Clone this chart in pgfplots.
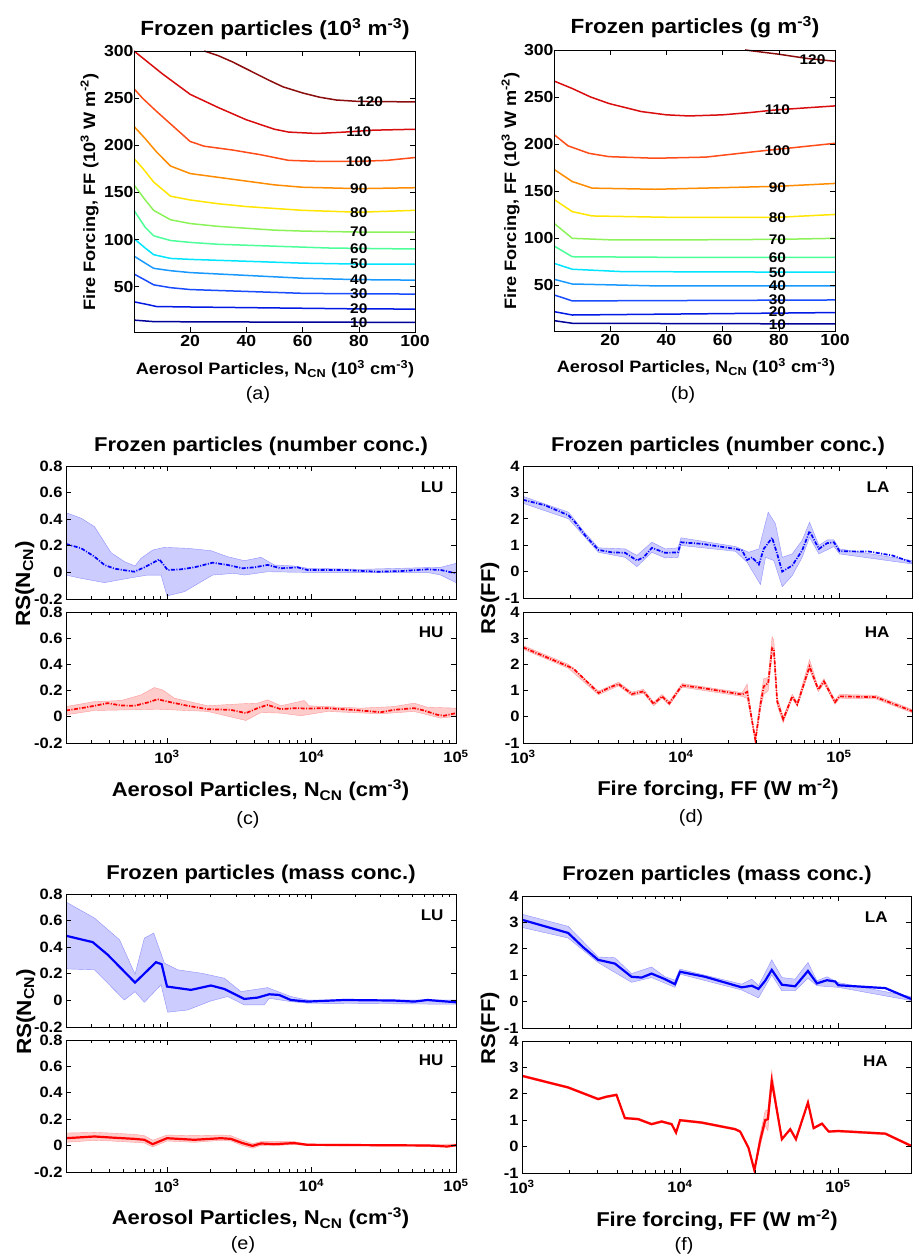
\documentclass[border=0pt]{standalone}
\usepackage{fontspec}
\setmainfont{Liberation Sans}[FakeStretch=1.1]
\usepackage{pgfplots}
\pgfplotsset{compat=1.18}
\newcommand{\B}[1]{\fontsize{#1}{#1}\selectfont\bfseries}
\newcommand{\R}[1]{\fontsize{#1}{#1}\selectfont}
\definecolor{j10}{rgb}{0,0,0.6}
\definecolor{j20}{rgb}{0,0.1,0.9}
\definecolor{j30}{rgb}{0.1,0.3,1}
\definecolor{j40}{rgb}{0.1,0.6,1}
\definecolor{j50}{rgb}{0,0.9,1}
\definecolor{j60}{rgb}{0.3,1,0.6}
\definecolor{j70}{rgb}{0.55,0.95,0.35}
\definecolor{j80}{rgb}{1,0.9,0}
\definecolor{j90}{rgb}{1,0.55,0}
\definecolor{j100}{rgb}{1,0.3,0.1}
\definecolor{j110}{rgb}{0.85,0.05,0.05}
\definecolor{j120}{rgb}{0.55,0.05,0.05}
\definecolor{bblue}{rgb}{0.8,0.8,1}
\definecolor{bred}{rgb}{1,0.8,0.8}
\tikzset{clab/.style={font=\B{14}, inner sep=0.5pt}}
\pgfplotsset{
  myb/.style={scale only axis, anchor=south west, axis on top,
    axis line style={line width=0.9pt}, tick align=inside,
    major tick length=5pt, minor tick length=3pt,
    every tick/.append style={black, line width=0.6pt},
    tick label style={font=\B{15}},
    /pgf/number format/assume math mode=true, clip=true},
  mycont/.style={myb, width=281pt, height=281pt, xmin=0, xmax=100, ymax=300,
    xtick={20,40,60,80,100}, ytick={50,100,150,200,250,300},
    tick label style={font=\B{16}}, yticklabel style={xshift=3pt}},
  cl/.style={line width=1.5pt},
  ncax/.style={myb, width=390pt, xmin=200, xmax=100000,
    xtick={1000,10000,100000},
    minor xtick={200,300,400,500,600,700,800,900,2000,3000,4000,5000,6000,7000,8000,9000,20000,30000,40000,50000,60000,70000,80000,90000},
    ymin=-0.2, ymax=0.8, ytick={-0.2,0,0.2,0.4,0.6,0.8},
    yticklabels={-0.2,0,0.2,0.4,0.6,0.8}},
  ffax/.style={myb, width=389pt, xmin=1000, xmax=290000,
    xtick={1000,10000,100000},
    minor xtick={2000,3000,4000,5000,6000,7000,8000,9000,20000,30000,40000,50000,60000,70000,80000,90000,200000},
    ymin=-1, ymax=4, ytick={-1,0,1,2,3,4}, yticklabels={-1,0,1,2,3,4}},
  topax/.style={xticklabels={}},
  botax/.style={xticklabels={10\textsuperscript{3},10\textsuperscript{4},10\textsuperscript{5}},
    xticklabel style={yshift=-4pt}},
  dd/.style={line width=1.7pt, dash pattern=on 4pt off 1.5pt on 1pt off 1.5pt},
  sl/.style={line width=2.2pt},
  bandB/.style={fill=bblue, draw=bblue!70!blue, line width=0.4pt},
  bandR/.style={fill=bred, draw=bred!75!red, line width=0.4pt},
}
\begin{document}
\begin{tikzpicture}[x=1pt,y=1pt]
\path[use as bounding box] (0,0) rectangle (912,1257);

% ---------------- (a)
\begin{axis}[mycont, at={(134pt,925pt)}, ymin=2]
\addplot[cl,j120] coordinates {(25,300)(30,295)(35,288.5)(42,278)(48,269)(53,262)(60,255.5)(66,251)(72,248)(80,246.5)(100,246)};
\addplot[cl,j110] coordinates {(0,300)(5,288)(10,276)(20,254)(30,240)(40,227)(50,217)(55,214)(65,212.5)(75,214)(85,216)(100,217)};
\addplot[cl,j100] coordinates {(0,260)(3,250)(8,236)(14,220)(20,204)(25,199)(35,195)(45,190)(55,184)(65,183)(80,183)(90,184)(100,187)};
\addplot[cl,j90] coordinates {(0,220)(4,207)(8,193)(13,178)(20,170)(30,166)(40,162)(50,158)(60,155.5)(80,154)(100,155)};
\addplot[cl,j80] coordinates {(0,186)(3,176)(7,161)(13,146)(20,142)(30,138)(40,135)(50,133)(60,131)(80,129)(100,131)};
\addplot[cl,j70] coordinates {(0,158)(4,142)(7,131)(13,121)(20,117)(30,114)(40,112)(50,110)(60,109)(80,108)(100,108)};
\addplot[cl,j60] coordinates {(0,131)(4,113)(7,104)(13,99)(20,97)(30,95)(50,93)(70,91)(100,90)};
\addplot[cl,j50] coordinates {(0,101)(4,91)(7,84)(13,80)(20,79)(40,77)(60,75)(80,74)(100,74)};
\addplot[cl,j40] coordinates {(0,82.5)(4,75)(7,69.5)(13,67)(20,65)(40,62)(60,59)(80,57.5)(100,57)};
\addplot[cl,j30] coordinates {(0,63.5)(4,57)(7,52)(13,49)(20,47)(40,45)(60,43)(80,42.5)(100,42.2)};
\addplot[cl,j20] coordinates {(0,34)(5,31)(8,29)(20,28.5)(50,27.5)(80,26.5)(100,26.3)};
\addplot[cl,j10] coordinates {(0,14.6)(7,13)(20,12.8)(50,12.5)(100,12.2)};
\node[clab] at (axis cs:84,246.5) {120};
\node[clab] at (axis cs:80,214.5) {110};
\node[clab] at (axis cs:80,183) {100};
\node[clab] at (axis cs:80,154.5) {90};
\node[clab] at (axis cs:80,129) {80};
\node[clab] at (axis cs:80,108) {70};
\node[clab] at (axis cs:80,90.5) {60};
\node[clab] at (axis cs:80,74) {50};
\node[clab] at (axis cs:80,57.5) {40};
\node[clab] at (axis cs:80,42.5) {30};
\node[clab] at (axis cs:80,27) {20};
\node[clab] at (axis cs:80,12) {10};
\end{axis}

% ---------------- (b)
\begin{axis}[mycont, at={(554pt,926pt)}, ymin=1]
\addplot[cl,j120] coordinates {(68,300)(80,295.5)(90,291)(100,288)};
\addplot[cl,j110] coordinates {(0,267)(6.5,259)(13,250)(19.6,243)(31,234.5)(40,231)(48,229.8)(60,231)(70,233.5)(78,236)(90,238.5)(100,240.5)};
\addplot[cl,j100] coordinates {(0,210)(5,198)(12.5,190)(19.6,186.5)(36,184.8)(54,186)(72,192)(85,196)(100,200.7)};
\addplot[cl,j90] coordinates {(0,173)(6.5,160)(13.6,153)(36,151.8)(60,153.5)(80,155)(100,158)};
\addplot[cl,j80] coordinates {(0,141)(6.5,128)(13.6,123.4)(40,122)(80,122)(100,125)};
\addplot[cl,j70] coordinates {(0,115.6)(6.5,99.6)(20,98)(50,98)(80,98.5)(100,99.6)};
\addplot[cl,j60] coordinates {(0,91.5)(6.5,80)(40,79.4)(100,79.4)};
\addplot[cl,j50] coordinates {(0,73)(6.5,66.7)(24,64.2)(100,63.5)};
\addplot[cl,j40] coordinates {(0,56)(6.5,51)(36,49)(100,49)};
\addplot[cl,j30] coordinates {(0,39.4)(6.5,33)(100,34)};
\addplot[cl,j20] coordinates {(0,21.6)(6.5,18)(100,20.6)};
\addplot[cl,j10] coordinates {(0,12)(6.5,9.2)(100,8.5)};
\node[clab] at (axis cs:92,289.5) {120};
\node[clab] at (axis cs:79.5,236) {110};
\node[clab] at (axis cs:79.5,193) {100};
\node[clab] at (axis cs:79.5,154) {90};
\node[clab] at (axis cs:79.5,121.5) {80};
\node[clab] at (axis cs:79.5,98.5) {70};
\node[clab] at (axis cs:79.5,79.4) {60};
\node[clab] at (axis cs:79.5,63.5) {50};
\node[clab] at (axis cs:79.5,49) {40};
\node[clab] at (axis cs:79.5,34.5) {30};
\node[clab] at (axis cs:79.5,21.8) {20};
\node[clab] at (axis cs:79.5,7.8) {10};
\end{axis}

% ---------------- (c) upper
\begin{semilogxaxis}[ncax, topax, at={(66pt,658pt)}, height=133pt]
\addplot[bandB] coordinates {(200,0.449)(255,0.407)(315,0.344)(410,0.148)(507,0.081)(601,0.048)(661,0.106)(796,0.168)(959,0.188)(1390,0.181)(2014,0.163)(2626,0.118)(3428,0.088)(4467,0.113)(5521,0.056)(7586,0.048)(9377,0.031)(21928,0.023)(63446,0.036)(78343,0.038)(100000,0.068)
(100000,-0.077)(78343,-0.02)(63446,0.0)(9377,0.0)(4966,0.005)(3428,-0.02)(2917,-0.007)(2070,-0.02)(1318,-0.145)(1000,-0.177)(910,-0.02)(735,-0.02)(535,-0.045)(369,-0.077)(255,-0.045)(200,-0.02)} -- cycle;
\addplot[dd,blue] coordinates {(200,0.214)(255,0.181)(315,0.118)(369,0.056)(433,0.028)(594,0.005)(697,0.038)(885,0.098)(1010,0.018)(1250,0.023)(1545,0.038)(2070,0.073)(2626,0.056)(3334,0.031)(4018,0.038)(4966,0.056)(6138,0.031)(8000,0.038)(9377,0.018)(16826,0.018)(28576,0.005)(41495,0.01)(63446,0.023)(78343,0.018)(100000,-0.007)};
\node[anchor=east,font=\B{15.5}] at (rel axis cs:0.977,0.84) {LU};
\end{semilogxaxis}
% ---------------- (c) lower
\begin{semilogxaxis}[ncax, botax, at={(66pt,514pt)}, height=131pt]
\addplot[bandR] coordinates {(200,0.078)(315,0.116)(481,0.124)(661,0.167)(817,0.223)(933,0.205)(1124,0.142)(1910,0.084)(3251,0.099)(4236,0.104)(4966,0.129)(6138,0.084)(8892,0.124)(9638,0.084)(21928,0.066)(37239,0.078)(51286,0.104)(63446,0.073)(100000,0.066)
(100000,0.003)(78343,-0.01)(51286,0.041)(30130,0.023)(12912,0.041)(8433,0.008)(6138,0.028)(4467,0.033)(3516,-0.028)(1910,0.041)(861,0.058)(535,0.053)(315,0.048)(200,0.015)} -- cycle;
\addplot[dd,red] coordinates {(200,0.048)(255,0.066)(315,0.084)(389,0.104)(481,0.086)(594,0.084)(735,0.109)(861,0.134)(1010,0.116)(1390,0.084)(1910,0.058)(2767,0.053)(3516,0.028)(4236,0.066)(4966,0.091)(6138,0.058)(7586,0.066)(9377,0.063)(12912,0.066)(21928,0.048)(30130,0.035)(37239,0.053)(51286,0.066)(60117,0.048)(74302,0.015)(82604,0.008)(100000,0.028)};
\node[anchor=east,font=\B{15.5}] at (rel axis cs:0.977,0.847) {HU};
\end{semilogxaxis}

% ---------------- (d) upper
\begin{semilogxaxis}[ffax, topax, at={(523pt,659pt)}, height=132pt]
\addplot[bandB] coordinates {(1000,2.85)(1942,2.25)(2472,1.46)(3006,0.90)(4433,0.86)(5257,0.61)(6546,1.11)(7943,0.86)(9572,0.90)(10000,1.28)(22131,0.95)(26853,0.73)(31117,0.86)(35645,2.25)(39628,1.81)(43745,0.54)(50605,0.67)(58479,1.18)(65128,1.87)(74644,0.99)(84334,1.20)(92897,1.20)(100900,0.86)(290000,0.42)
(290000,0.29)(100900,0.67)(92897,0.95)(74644,0.67)(65128,1.30)(58479,0.54)(50605,-0.15)(43745,-0.57)(38725,0.42)(34277,0.54)(31842,-0.49)(26242,0.35)(22131,0.77)(10000,0.99)(9572,0.54)(7943,0.52)(6546,0.73)(5257,0.19)(4433,0.54)(3006,0.73)(1942,2.0)(1000,2.59)} -- cycle;
\addplot[dd,blue] coordinates {(1000,2.72)(1380,2.51)(1942,2.13)(2138,1.87)(2472,1.37)(3006,0.82)(3650,0.73)(4433,0.71)(5257,0.42)(5796,0.54)(6546,0.90)(7943,0.71)(9572,0.73)(10000,1.11)(13594,1.05)(22131,0.86)(24380,0.80)(26242,0.44)(28184,0.54)(31117,0.27)(33420,0.86)(37757,1.28)(40623,0.67)(43745,0.0)(50605,0.23)(58479,0.80)(65128,1.53)(74644,0.86)(84334,1.08)(92897,1.11)(100900,0.77)(154881,0.76)(217770,0.61)(290000,0.35)};
\node[anchor=east,font=\B{15.5}] at (rel axis cs:0.951,0.84) {LA};
\end{semilogxaxis}
% ---------------- (d) lower
\begin{semilogxaxis}[ffax, botax, at={(523pt,514pt)}, height=131pt]
\addplot[bandR] coordinates {(1000,2.72)(1942,2.0)(3006,0.98)(4027,1.32)(4887,0.94)(5796,1.05)(6714,0.56)(7586,0.85)(8438,0.58)(10146,1.27)(24380,0.92)(26242,1.25)(28184,-0.08)(29580,-0.82)(31842,0.7)(33420,1.45)(35645,1.5)(37757,3.06)(38725,2.9)(40623,0.75)(44361,0.0)(50605,0.86)(54450,0.55)(65128,2.18)(73961,1.12)(80352,1.45)(94406,0.64)(100900,0.85)(171000,0.82)(290000,0.28)
(290000,0.16)(171000,0.68)(100900,0.71)(94406,0.48)(80352,1.27)(73961,0.96)(65128,1.8)(54450,0.40)(50605,0.70)(44361,-0.23)(40623,0.45)(38725,2.3)(37757,2.4)(35645,1.0)(33420,0.85)(31842,0.3)(29580,-0.98)(28184,-0.24)(26242,0.7)(24380,0.78)(10146,1.13)(8438,0.44)(7586,0.71)(6714,0.42)(5796,0.9)(4887,0.80)(4027,1.18)(3006,0.84)(1942,1.85)(1000,2.58)} -- cycle;
\addplot[dd,red] coordinates {(1000,2.65)(1942,1.92)(2085,1.84)(3006,0.91)(3475,1.10)(4027,1.25)(4887,0.87)(5796,0.97)(6714,0.49)(7586,0.78)(8438,0.51)(10146,1.20)(13594,1.10)(24380,0.85)(26242,0.95)(28184,-0.16)(29580,-0.90)(31842,0.47)(33420,1.16)(35645,1.29)(37757,2.62)(38725,2.56)(40623,0.59)(44361,-0.10)(50605,0.78)(54450,0.47)(65128,1.92)(73961,1.04)(80352,1.35)(94406,0.56)(100900,0.78)(171000,0.75)(290000,0.22)};
\node[anchor=east,font=\B{15.5}] at (rel axis cs:0.951,0.847) {HA};
\end{semilogxaxis}

% ---------------- (e) upper
\begin{semilogxaxis}[ncax, topax, at={(66pt,230pt)}, height=133pt]
\addplot[bandB] coordinates {(200,0.74)(315,0.619)(469,0.456)(601,0.197)(697,0.468)(809,0.506)(959,0.280)(1185,0.230)(1718,0.205)(2489,0.167)(3251,0.066)(4966,0.096)(7194,0.029)(9377,0.003)(100000,0.003)
(100000,-0.029)(9377,-0.021)(7194,-0.009)(5093,0.016)(4710,-0.034)(3428,-0.034)(2626,0.029)(2014,-0.004)(1390,-0.072)(1010,-0.089)(910,0.117)(697,-0.014)(601,0.066)(507,0.003)(315,0.230)(200,0.237)} -- cycle;
\addplot[sl,blue] coordinates {(200,0.486)(306,0.438)(389,0.343)(601,0.134)(839,0.287)(918,0.272)(1000,0.104)(1466,0.079)(2014,0.112)(2489,0.086)(3428,0.011)(4236,0.021)(5093,0.046)(5970,0.041)(7194,0.003)(9377,-0.009)(16826,0.003)(37239,-0.001)(51286,-0.009)(63446,0.003)(100000,-0.014)};
\node[anchor=east,font=\B{15.5}] at (rel axis cs:0.977,0.84) {LU};
\end{semilogxaxis}
% ---------------- (e) lower
\begin{semilogxaxis}[ncax, botax, at={(66pt,85pt)}, height=132pt]
\addplot[bandR] coordinates {(200,0.095)(315,0.1)(410,0.095)(594,0.085)(697,0.075)(796,0.04)(1000,0.08)(1545,0.075)(2360,0.08)(2767,0.075)(3334,0.04)(3908,0.015)(4467,0.03)(5521,0.03)(7586,0.03)(9377,0.012)(63446,0.008)(100000,0.012)
(100000,-0.005)(63446,-0.006)(9377,0.0)(7586,0.008)(5521,0.0)(4467,0.002)(3908,-0.02)(3334,0.0)(2767,0.035)(2360,0.04)(1545,0.025)(1000,0.035)(796,-0.01)(697,0.02)(594,0.025)(410,0.035)(315,0.04)(200,0.025)} -- cycle;
\addplot[sl,red] coordinates {(200,0.056)(315,0.069)(410,0.061)(594,0.051)(697,0.044)(796,0.011)(1000,0.056)(1545,0.044)(2360,0.056)(2767,0.051)(3334,0.019)(3908,-0.002)(4467,0.016)(5521,0.011)(7586,0.019)(9377,0.006)(63446,0.001)(87096,-0.007)(100000,0.003)};
\node[anchor=east,font=\B{15.5}] at (rel axis cs:0.977,0.847) {HU};
\end{semilogxaxis}

% ---------------- (f) upper
\begin{semilogxaxis}[ffax, topax, at={(522pt,229pt)}, height=132pt]
\addplot[bandB] coordinates {(1000,3.31)(1959,2.85)(3034,1.69)(3873,1.66)(4936,1.06)(6607,1.31)(8035,0.94)(9297,0.81)(10000,1.23)(24594,0.66)(28497,0.85)(31413,0.60)(38108,1.58)(44157,0.91)(53580,0.85)(64565,1.48)(73621,0.79)(85170,0.94)(100400,0.72)(290000,0.19)
(290000,0.04)(100400,0.54)(73621,0.60)(64565,0.89)(53580,0.41)(44157,0.41)(38108,1.01)(31413,0.14)(24594,0.44)(10000,1.04)(9297,0.54)(6607,0.91)(4936,0.73)(3034,1.48)(1959,2.41)(1000,2.81)} -- cycle;
\addplot[sl,blue] coordinates {(1000,3.10)(1959,2.60)(2438,2.06)(3034,1.58)(3873,1.44)(4936,0.94)(5712,0.91)(6607,1.06)(8035,0.85)(9297,0.66)(10000,1.13)(14418,0.94)(24594,0.54)(28497,0.60)(31413,0.48)(34617,0.79)(38108,1.20)(44157,0.64)(53580,0.58)(64565,1.16)(73621,0.69)(85170,0.81)(96139,0.76)(100400,0.62)(199526,0.51)(290000,0.10)};
\node[anchor=east,font=\B{15.5}] at (rel axis cs:0.949,0.84) {LA};
\end{semilogxaxis}
% ---------------- (f) lower
\begin{semilogxaxis}[ffax, botax, at={(522pt,84pt)}, height=132pt]
\addplot[bandR] coordinates {(1000,2.72)(1959,2.28)(3034,1.84)(3428,1.93)(3963,2.0)(4477,1.12)(5445,1.08)(6607,0.89)(7656,0.99)(8855,0.89)(9441,0.57)(10000,1.04)(13713,0.95)(22331,0.70)(24032,0.61)(27122,0.0)(29580,-0.86)(32137,0.45)(34617,1.35)(36000,1.4)(38108,2.87)(44157,0.32)(49888,0.70)(54200,0.32)(64565,1.71)(70146,0.74)(79250,0.91)(87297,0.61)(100400,0.63)(199526,0.53)(290000,0.07)
(290000,-0.01)(199526,0.45)(100400,0.55)(87297,0.53)(79250,0.83)(70146,0.66)(64565,1.63)(54200,0.24)(49888,0.62)(44157,0.24)(38108,2.3)(36000,0.6)(34617,0.8)(32137,0.0)(29580,-0.94)(27122,-0.08)(24032,0.53)(22331,0.62)(13713,0.87)(10000,0.96)(9441,0.49)(8855,0.81)(7656,0.91)(6607,0.81)(5445,1.0)(4477,1.04)(3963,1.92)(3428,1.85)(3034,1.76)(1959,2.20)(1000,2.64)} -- cycle;
\addplot[sl,red] coordinates {(1000,2.68)(1959,2.24)(3034,1.80)(3428,1.89)(3963,1.96)(4477,1.08)(5445,1.04)(6607,0.85)(7656,0.95)(8855,0.85)(9441,0.53)(10000,1.0)(13713,0.91)(22331,0.66)(24032,0.57)(27122,-0.04)(29580,-0.90)(32137,0.22)(34617,1.0)(36000,1.04)(38108,2.49)(44157,0.28)(49888,0.66)(54200,0.28)(64565,1.67)(70146,0.70)(79250,0.87)(87297,0.57)(100400,0.59)(199526,0.49)(290000,0.03)};
\node[anchor=east,font=\B{15.5}] at (rel axis cs:0.949,0.847) {HA};
\end{semilogxaxis}

% ---------------- titles
\node[anchor=base,font=\B{20.5}] at (275,1221) {Frozen particles (10\textsuperscript{3} m\textsuperscript{-3})};
\node[anchor=base,font=\B{20.5}] at (695,1223) {Frozen particles (g m\textsuperscript{-3})};
\node[anchor=base,font=\B{20}] at (261,805) {Frozen particles (number conc.)};
\node[anchor=base,font=\B{20}] at (718,805) {Frozen particles (number conc.)};
\node[anchor=base,font=\B{20}] at (261,377) {Frozen particles (mass conc.)};
\node[anchor=base,font=\B{20}] at (717,376) {Frozen particles (mass conc.)};
% x labels
\node[anchor=base,font=\B{16.5}] at (275,882) {Aerosol Particles, N\textsubscript{CN} (10\textsuperscript{3} cm\textsuperscript{-3})};
\node[anchor=base,font=\B{16.5}] at (696,884) {Aerosol Particles, N\textsubscript{CN} (10\textsuperscript{3} cm\textsuperscript{-3})};
\node[anchor=base,font=\B{20}] at (260.5,460) {Aerosol Particles, N\textsubscript{CN} (cm\textsuperscript{-3})};
\node[anchor=base,font=\B{20}] at (718,461) {Fire forcing, FF (W m\textsuperscript{-2})};
\node[anchor=base,font=\B{20}] at (260.5,32) {Aerosol Particles, N\textsubscript{CN} (cm\textsuperscript{-3})};
\node[anchor=base,font=\B{20}] at (717,30) {Fire forcing, FF (W m\textsuperscript{-2})};
% y labels
\node[anchor=base,rotate=90,font=\B{16.5}] at (95,1065) {Fire Forcing, FF (10\textsuperscript{3} W m\textsuperscript{-2})};
\node[anchor=base,rotate=90,font=\B{16.5}] at (516,1066) {Fire Forcing, FF (10\textsuperscript{3} W m\textsuperscript{-2})};
\node[anchor=base,rotate=90,font=\B{20.5}] at (30,673) {RS(N\textsubscript{CN})};
\node[anchor=base,rotate=90,font=\B{20}] at (495,659) {RS(FF)};
\node[anchor=base,rotate=90,font=\B{20.5}] at (31,245) {RS(N\textsubscript{CN})};
\node[anchor=base,rotate=90,font=\B{20}] at (495,229) {RS(FF)};
% panel letters
\node[anchor=base,font=\R{18}] at (258,857) {(a)};
\node[anchor=base,font=\R{18}] at (683,857) {(b)};
\node[anchor=base,font=\R{18}] at (248,432) {(c)};
\node[anchor=base,font=\R{18}] at (691,434) {(d)};
\node[anchor=base,font=\R{18}] at (243,7) {(e)};
\node[anchor=base,font=\R{18}] at (684,6) {(f)};
\end{tikzpicture}
\end{document}
